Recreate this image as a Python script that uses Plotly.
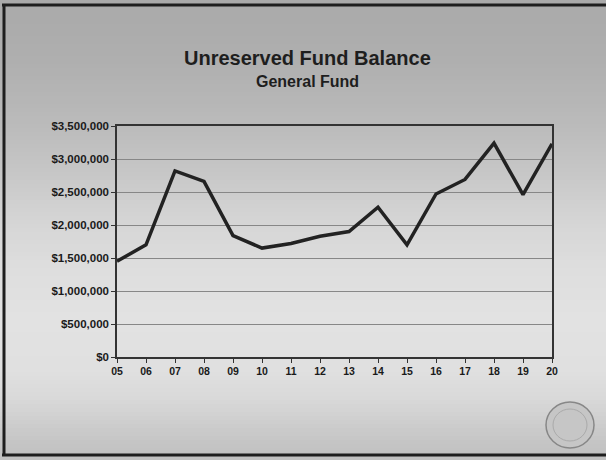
import plotly.graph_objects as go

# Fiscal years (two-digit labels) and unreserved balance of the General Fund
years = ["05", "06", "07", "08", "09", "10", "11", "12", "13", "14", "15", "16", "17", "18", "19", "20"]
balance = [1450000, 1700000, 2820000, 2660000, 1840000, 1650000, 1720000, 1830000,
           1900000, 2270000, 1700000, 2470000, 2690000, 3240000, 2460000, 3230000]

y_ticks = [0, 500000, 1000000, 1500000, 2000000, 2500000, 3000000, 3500000]
y_tick_text = ["$0", "$500,000", "$1,000,000", "$1,500,000", "$2,000,000",
               "$2,500,000", "$3,000,000", "$3,500,000"]

W, H = 606, 460
ML, MR, MT, MB = 117, 54, 126, 103
PW, PH = W - ML - MR, H - MT - MB


def px_x(x):
    return (x - ML) / PW


def px_y(y):
    return (H - MB - y) / PH


# vertical grey shading of the slide (pixel row -> grey level)
stops = [(0, 170), (30, 172), (60, 175), (100, 182), (130, 188), (170, 198),
         (220, 213), (270, 222), (320, 226), (370, 224), (400, 216),
         (420, 207), (440, 198), (460, 192)]


def grey_at(y):
    for (y0, g0), (y1, g1) in zip(stops, stops[1:]):
        if y0 <= y <= y1:
            return g0 + (g1 - g0) * (y - y0) / (y1 - y0)
    return stops[-1][1]


shapes = []
band = 4
for y in range(0, H, band):
    g = int(round(grey_at(y + band / 2)))
    shapes.append(dict(type="rect", xref="paper", yref="paper", layer="below",
                       x0=px_x(0), x1=px_x(W), y0=px_y(y + band + 0.5), y1=px_y(y),
                       fillcolor=f"rgb({g},{g},{g})", line=dict(width=0)))

# slide frame
frame = "#1e1e1e"
shapes += [
    dict(type="line", xref="paper", yref="paper", x0=px_x(2), x1=px_x(W), y0=px_y(5), y1=px_y(5),
         line=dict(color=frame, width=3)),
    dict(type="line", xref="paper", yref="paper", x0=px_x(4), x1=px_x(4), y0=px_y(4), y1=px_y(456),
         line=dict(color=frame, width=3)),
    dict(type="line", xref="paper", yref="paper", x0=px_x(2), x1=px_x(W), y0=px_y(455), y1=px_y(455),
         line=dict(color=frame, width=3)),
    # seal in the lower-right corner
    dict(type="circle", xref="paper", yref="paper", x0=px_x(546), x1=px_x(594),
         y0=px_y(448), y1=px_y(402), fillcolor="rgb(198,198,198)",
         line=dict(color="rgb(135,135,135)", width=1.5)),
    dict(type="circle", xref="paper", yref="paper", x0=px_x(553), x1=px_x(587),
         y0=px_y(441), y1=px_y(409), fillcolor="rgba(0,0,0,0)",
         line=dict(color="rgb(170,170,170)", width=1)),
]

fig = go.Figure(go.Scatter(
    x=years, y=balance, mode="lines",
    line=dict(color="#222222", width=3.5),
))

tick_font = dict(size=11.5, color="#1a1a1a", family="Liberation Sans, Arial, sans-serif", weight="bold")

fig.update_layout(
    width=W, height=H,
    margin=dict(l=ML, r=MR, t=MT, b=MB),
    paper_bgcolor="rgb(200,200,200)",
    plot_bgcolor="rgba(0,0,0,0)",
    showlegend=False,
    shapes=shapes,
    font=dict(family="Liberation Sans, Arial, sans-serif", color="#1a1a1a"),
    annotations=[
        dict(text="<b>Unreserved Fund Balance</b>", xref="paper", yref="paper",
             x=px_x(307), y=px_y(58), showarrow=False, font=dict(size=20, color="#1e1e1e"),
             xanchor="center", yanchor="middle"),
        dict(text="<b>General Fund</b>", xref="paper", yref="paper",
             x=px_x(307), y=px_y(81), showarrow=False, font=dict(size=16, color="#1e1e1e"),
             xanchor="center", yanchor="middle"),
    ],
)

fig.update_xaxes(
    type="category", range=[0, len(years) - 1],
    showline=True, linecolor="#333333", linewidth=1.5, mirror=True,
    ticks="outside", ticklen=4, tickcolor="#333333",
    showgrid=False, zeroline=False,
    tickfont=dict(tick_font, size=10.5),
)
fig.update_yaxes(
    range=[0, 3500000], tickvals=y_ticks, ticktext=y_tick_text,
    showline=True, linecolor="#333333", linewidth=1.5, mirror=True,
    ticks="outside", ticklen=4, tickcolor="#333333",
    showgrid=True, gridcolor="rgb(135,135,135)", gridwidth=1, zeroline=False,
    tickfont=tick_font,
)

fig.write_html("out.html")
